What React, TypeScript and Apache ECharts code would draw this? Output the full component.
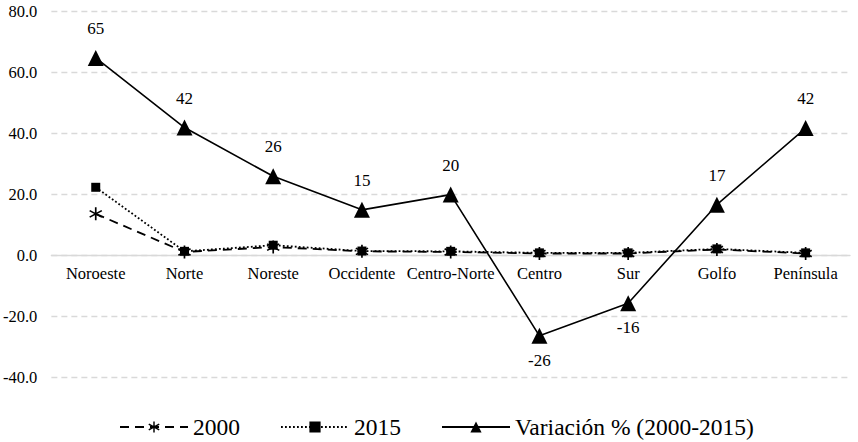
import React, { useEffect, useRef } from "react";
import * as echarts from "echarts";

const categories = ["Noroeste", "Norte", "Noreste", "Occidente", "Centro-Norte", "Centro", "Sur", "Golfo", "Península"];
const values2000 = [13.5, 1.0, 2.6, 1.2, 1.0, 0.5, 0.5, 1.8, 0.5];
const values2015 = [22.2, 1.2, 3.2, 1.3, 1.2, 0.7, 0.7, 2.0, 0.7];
const variacion = [64.6, 41.8, 25.8, 14.8, 19.8, -26.5, -15.8, 16.5, 41.6];
const yTicks = { min: -40, max: 80, interval: 20 };

const asterisk =
  "path://M-1.2,-10 L1.2,-10 L1.2,10 L-1.2,10 Z M8.06,-6.04 L9.26,-3.96 L-8.06,6.04 L-9.26,3.96 Z M-9.26,-3.96 L-8.06,-6.04 L9.26,3.96 L8.06,6.04 Z";

const FONT = "Liberation Serif";

export default function App() {
  const ref = useRef<HTMLDivElement>(null);
  useEffect(() => {
    const chart = echarts.init(ref.current!, null, { renderer: "svg" });
    const gridTop = 11;
    const gridBottom = 65;
    const gridH = 442 - gridTop - gridBottom;
    const zeroOffset = (gridH * (0 - yTicks.min)) / (yTicks.max - yTicks.min);
    chart.setOption({
      animation: false,
      textStyle: { fontFamily: FONT, color: "#000" },
      grid: { left: 51, right: 8, top: gridTop, bottom: gridBottom, containLabel: false },
      legend: {
        top: 415,
        left: 119,
        padding: 0,
        itemWidth: 68,
        itemHeight: 14,
        itemGap: 40,
        textStyle: { fontFamily: FONT, fontSize: 23.5, color: "#000" },
        data: ["2000", "2015", "Variación % (2000-2015)"],
      },
      xAxis: {
        type: "category",
        data: categories,
        offset: -zeroOffset,
        axisLine: { onZero: false, lineStyle: { color: "#d9d9d9", width: 1.3 } },
        axisTick: { show: false },
        axisLabel: { fontFamily: FONT, fontSize: 16.5, color: "#000", margin: 10, interval: 0 },
      },
      yAxis: {
        type: "value",
        min: yTicks.min,
        max: yTicks.max,
        interval: yTicks.interval,
        axisLine: { show: false },
        axisTick: { show: false },
        axisLabel: {
          fontFamily: FONT,
          fontSize: 16.5,
          color: "#000",
          margin: 14,
          formatter: (v: number) => v.toFixed(1),
        },
        splitLine: { lineStyle: { color: "#d9d9d9", type: [6, 4], width: 1.3 } },
      },
      series: [
        {
          name: "2000",
          type: "line",
          data: values2000,
          symbol: asterisk,
          symbolSize: 13,
          itemStyle: { color: "#000" },
          lineStyle: { color: "#000", width: 1.8, type: [9, 6] },
          z: 3,
        },
        {
          name: "2015",
          type: "line",
          data: values2015,
          symbol: "rect",
          symbolSize: 9,
          itemStyle: { color: "#000" },
          lineStyle: { color: "#000", width: 1.8, type: [1.8, 2.2] },
          z: 3,
        },
        {
          name: "Variación % (2000-2015)",
          type: "line",
          data: variacion.map((v) => ({
            value: v,
            label: { position: v < 0 ? "bottom" : "top", distance: v < 0 ? 8 : 13 },
          })),
          symbol: "triangle",
          symbolSize: 16,
          itemStyle: { color: "#000" },
          lineStyle: { color: "#000", width: 1.6 },
          label: {
            show: true,
            fontFamily: FONT,
            fontSize: 17,
            color: "#000",
            distance: 13,
            formatter: (p: any) => Math.round(p.value).toString(),
          },
          z: 4,
        },
      ],
    });
    return () => chart.dispose();
  }, []);
  return (
    <div
      ref={ref}
      style={{ position: "fixed", left: 0, top: 0, width: 858, height: 442, background: "#fff" }}
    />
  );
}
